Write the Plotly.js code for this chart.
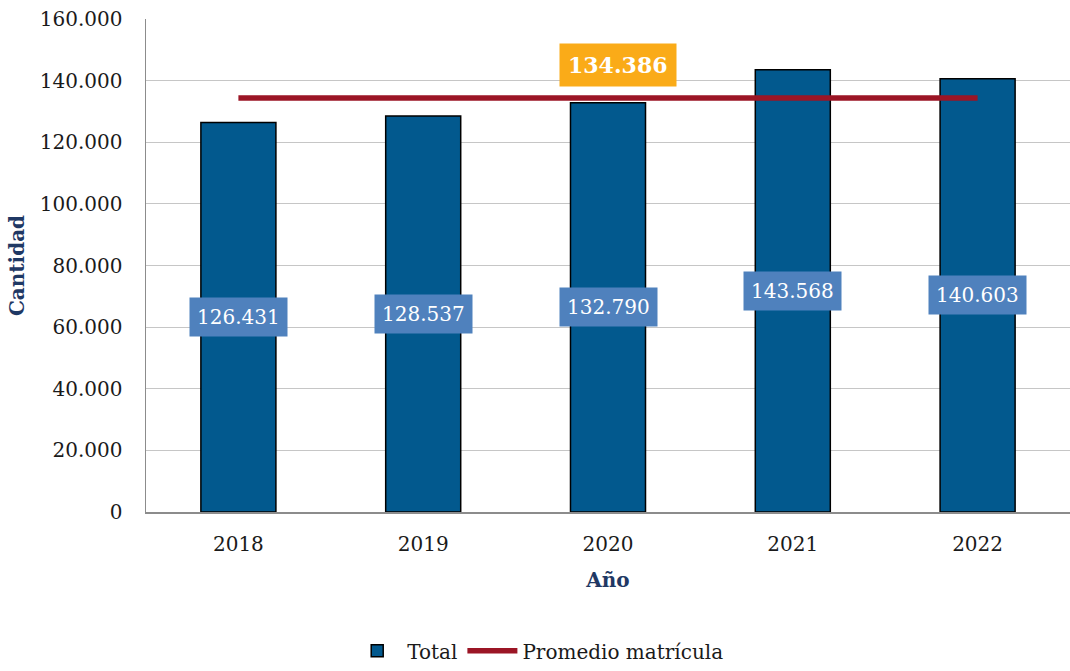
<!DOCTYPE html>
<html><head><meta charset="utf-8">
<script src="https://cdn.plot.ly/plotly-3.0.1.min.js"></script>
<style>html,body{margin:0;padding:0;background:#fff}#chart{width:1070px;height:671px}</style>
</head><body><div id="chart"></div>
<script>
const years = ['2018','2019','2020','2021','2022'];
const totals = [126431, 128537, 132790, 143568, 140603];
const average = 134386;
const averageSeries = years.map(() => average);

const fmt = v => v.toLocaleString('de-DE');
const FONT = 'DejaVu Serif, Liberation Serif, serif';

const traces = [
  {type:'bar', x:years, y:totals, name:'Total', width:0.406,
   marker:{color:'#02598E', line:{color:'#000000', width:1.5}}, hoverinfo:'skip'},
  {type:'scatter', mode:'lines', x:years, y:averageSeries, name:'Promedio matrícula',
   line:{color:'#9B1525', width:5.5}, hoverinfo:'skip'}
];

const annotations = years.map((yr,i) => ({
  x: i, y: totals[i]/2, xref:'x', yref:'y', text: fmt(totals[i]), showarrow:false,
  font:{family:FONT, size:20, color:'#ffffff'}, bgcolor:'#4F81BD', borderpad:7
}));
annotations.push({
  x: 2, y: average, xref:'x', yref:'y', text:'<b>'+fmt(average)+'</b>', showarrow:false,
  yshift:33, xshift:10, font:{family:FONT, size:22, color:'#ffffff'}, bgcolor:'#FAAB18', borderpad:8
});

const layout = {
  width:1070, height:671,
  margin:{l:146, r:0, t:19, b:159},
  paper_bgcolor:'#ffffff', plot_bgcolor:'#ffffff',
  separators:',.',
  font:{family:FONT, size:20, color:'#1a1a1a'},
  showlegend:true,
  legend:{orientation:'h', xref:'container', yref:'container', x:0.503, xanchor:'center',
          y:0.03, yanchor:'middle', itemwidth:50,
          font:{family:FONT, size:20, color:'#1a1a1a'}, traceorder:'normal'},
  xaxis:{type:'category', range:[-0.5,4.5], showline:true, linecolor:'#8c8c8c', linewidth:1.5,
         showgrid:false, ticks:'', ticklabelstandoff:13,
         tickfont:{family:FONT, size:20, color:'#1a1a1a'},
         title:{text:'<b>Año</b>', font:{family:FONT, size:20, color:'#1F3864'}, standoff:18}},
  yaxis:{range:[0,160000], tick0:0, dtick:20000, tickformat:',d',
         showline:true, linecolor:'#8c8c8c', linewidth:1.5,
         showgrid:true, gridcolor:'#c6c6c6', gridwidth:1.2, zeroline:false,
         ticks:'', ticklabelstandoff:18,
         tickfont:{family:FONT, size:20, color:'#1a1a1a'},
         title:{text:'<b>Cantidad</b>', font:{family:FONT, size:20, color:'#1F3864'}, standoff:10}},
  annotations: annotations
};

Plotly.newPlot('chart', traces, layout, {displayModeBar:false, staticPlot:true});
</script></body></html>
